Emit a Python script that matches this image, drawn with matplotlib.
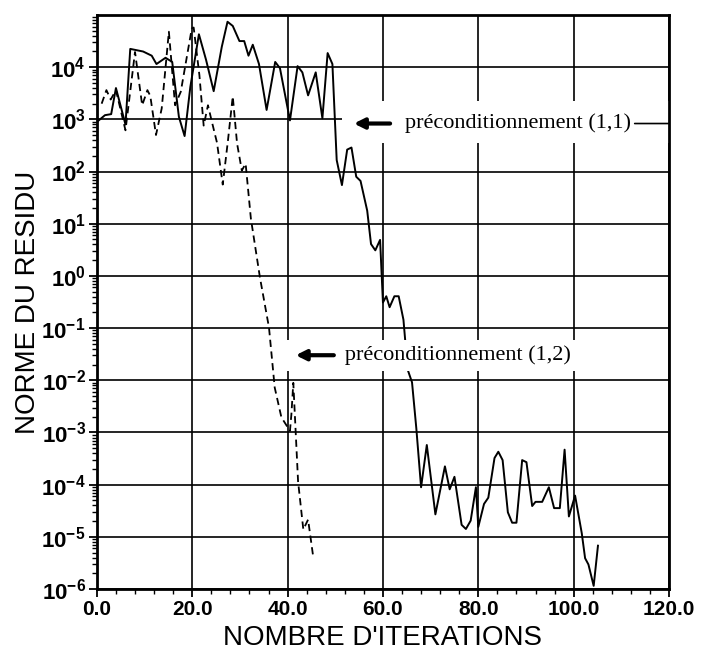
import numpy as np
import matplotlib
matplotlib.use('Agg')
import matplotlib.pyplot as plt
from matplotlib.ticker import FixedLocator, MultipleLocator, LogLocator, FuncFormatter, NullFormatter

plt.rcParams['font.family'] = ['Liberation Sans', 'DejaVu Sans']
plt.rcParams['mathtext.fontset'] = 'custom'
plt.rcParams['mathtext.rm'] = 'Liberation Sans'
plt.rcParams['mathtext.bf'] = 'Liberation Sans:bold'
plt.rcParams['mathtext.it'] = 'Liberation Sans:italic'

# préconditionnement (1,1) - trait plein (itération, log10 du résidu)
it_11 = [0, 1.7, 3.0, 4.0, 6.0, 7.0, 9.7, 11.5, 12.5, 14.4, 15.8, 17.2, 18.4, 19.6,
         21.4, 22.9, 24.5, 26.2, 27.4, 28.5, 29.9, 30.9, 31.8, 32.7, 34.0, 35.6,
         37.4, 38.4, 40.5, 42.1, 43.1, 44.3, 45.9, 47.3, 48.4, 49.4, 50.3, 51.4,
         52.5, 53.4, 54.4, 55.3, 56.7, 57.5, 58.4, 59.4, 60.0, 60.7, 61.4, 62.4,
         63.3, 64.3, 65.2, 66.1, 67.0, 68.0, 69.2, 71.0, 73.0, 74.0, 75.0, 76.5,
         77.4, 78.4, 79.5, 80.0, 81.2, 82.1, 83.4, 84.2, 85.1, 86.2, 87.1, 88.0,
         89.2, 90.1, 91.3, 92.0, 93.4, 94.8, 95.9, 97.1, 98.1, 99.0, 100.3, 101.7,
         102.4, 103.1, 104.2, 105.1]
log_11 = [2.95, 3.08, 3.1, 3.6, 2.9, 4.35, 4.3, 4.22, 4.06, 4.18, 4.1, 3.05, 2.68, 3.62,
          4.63, 4.14, 3.54, 4.39, 4.87, 4.79, 4.5, 4.5, 4.22, 4.43, 4.06, 3.18,
          4.1, 3.98, 2.98, 4.02, 3.9, 3.46, 3.9, 3.02, 4.27, 4.06, 2.22, 1.74,
          2.42, 2.46, 1.9, 1.82, 1.25, 0.61, 0.49, 0.69, -0.51, -0.39, -0.6, -0.39,
          -0.39, -0.84, -1.8, -2.04, -2.92, -4.05, -3.24, -4.57, -3.65, -4.09, -3.85, -4.77,
          -4.85, -4.69, -4.05, -4.81, -4.37, -4.25, -3.49, -3.37, -3.53, -4.53, -4.73, -4.73,
          -3.53, -3.57, -4.41, -4.33, -4.33, -4.05, -4.45, -4.45, -3.33, -4.61, -4.21, -4.93,
          -5.41, -5.53, -5.94, -5.17]

# préconditionnement (1,2) - pointillés
it_12 = [1.0, 2.0, 2.9, 4.0, 6.0, 8.0, 9.5, 10.6, 11.2, 12.4, 13.6, 15.1, 16.4, 17.6,
         19.9, 20.3, 21.5, 22.4, 23.3, 24.0, 25.2, 26.4, 27.5, 28.5, 29.4, 30.4,
         31.2, 32.3, 34.2, 36.1, 37.3, 38.7, 40.5, 40.8, 41.2, 42.2, 43.3, 44.3, 45.4]
log_12 = [3.3, 3.56, 3.38, 3.56, 2.79, 4.29, 3.27, 3.56, 3.45, 2.70, 3.21, 4.68, 3.27, 3.53,
          4.74, 4.76, 3.85, 2.88, 3.27, 3.0, 2.55, 1.75, 2.6, 3.44, 2.54, 2.02,
          2.15, 1.1, -0.03, -0.99, -2.14, -2.71, -2.97, -2.65, -2.05, -3.94, -4.86, -4.67, -5.4]

xticks = [0, 20, 40, 60, 80, 100, 120]
ydecades = list(range(-6, 5))

res_11 = 10.0 ** np.array(log_11)
res_12 = 10.0 ** np.array(log_12)

fig = plt.figure(figsize=(7.02, 6.57), dpi=100)
ax = fig.add_axes([0.138, 0.1035, 0.815, 0.8737])

ax.plot(it_11, res_11, color='black', lw=1.4, zorder=3)
ax.plot(it_12, res_12, color='black', lw=1.3, dashes=(4, 2.5), zorder=3)

ax.set_yscale('log')
ax.set_xlim(0, 120)
ax.set_ylim(1e-6, 1e5)

ax.xaxis.set_major_locator(FixedLocator(xticks))
ax.xaxis.set_minor_locator(MultipleLocator(4))
ax.xaxis.set_major_formatter(FuncFormatter(lambda v, p: '%.1f' % v))
ax.yaxis.set_major_locator(FixedLocator([10.0 ** d for d in ydecades]))
ax.yaxis.set_minor_locator(LogLocator(base=10, subs=np.arange(2, 10), numticks=20))
ax.yaxis.set_minor_formatter(NullFormatter())
ax.yaxis.set_major_formatter(FuncFormatter(
    lambda v, p: r'$\mathbf{10^{%d}}$' % int(round(np.log10(v)))))

ax.tick_params(axis='both', which='major', direction='out', length=6, width=1.3, labelsize=15)
ax.tick_params(axis='y', which='major', labelsize=16)
ax.tick_params(axis='both', which='minor', direction='out', length=3.5, width=1)
ax.tick_params(axis='x', which='major', pad=2)
ax.tick_params(axis='y', which='major', pad=2)
for lab in ax.get_xticklabels():
    lab.set_fontweight('bold')

ax.grid(True, which='major', color='black', lw=1.2)
for s in ax.spines.values():
    s.set_linewidth(2)

ax.set_xlabel("NOMBRE D'ITERATIONS", fontsize=20, labelpad=4)
ax.set_ylabel('NORME DU RESIDU', fontsize=20, labelpad=0)

# annotations
serif = ['Liberation Serif', 'DejaVu Serif']

y11 = 10 ** 2.92
# fond blanc qui masque la grille sous l'annotation (1,1)
ax.axhspan(10 ** 2.55, 10 ** 3.35, xmin=51.5 / 120, xmax=1, color='white', lw=0, zorder=2)
ax.annotate('préconditionnement (1,1)', xy=(1.0, y11),
            xycoords=('axes fraction', 'data'), xytext=(64.7, y11), textcoords='data',
            ha='left', va='center', fontsize=16, family=serif, zorder=4,
            bbox=dict(boxstyle='square,pad=0.15', fc='none', ec='none'),
            arrowprops=dict(arrowstyle='-', lw=1.2, color='black', shrinkA=0, shrinkB=0))
ax.annotate('', xy=(53.9, y11), xytext=(61.5, y11),
            arrowprops=dict(arrowstyle='-|>', lw=3, color='black', mutation_scale=15,
                            shrinkA=0, shrinkB=0), zorder=5)

y12 = 10 ** -1.52
ax.text(39.0, y12, '           préconditionnement (1,2)', ha='left', va='center',
        fontsize=16, family=serif, zorder=4,
        bbox=dict(boxstyle='square,pad=0.25', fc='white', ec='none'))
ax.annotate('', xy=(41.7, y12), xytext=(49.7, y12),
            arrowprops=dict(arrowstyle='-|>', lw=3, color='black', mutation_scale=15,
                            shrinkA=0, shrinkB=0), zorder=5)

fig.savefig('out.png', dpi=100)
